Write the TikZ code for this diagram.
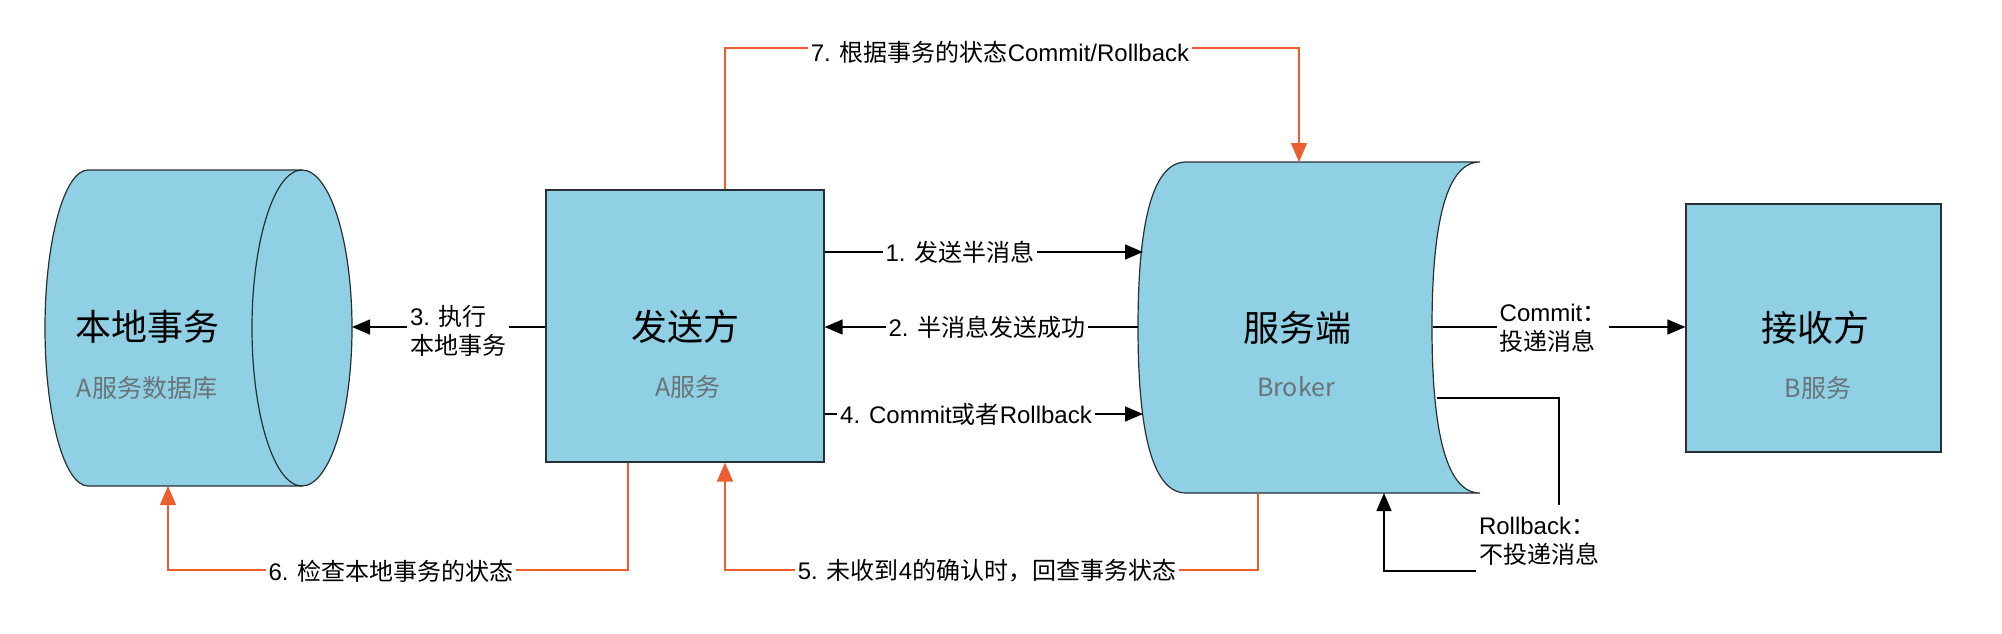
\documentclass[tikz,border=0pt]{standalone}
\usepackage{fontspec}
\setmainfont{Liberation Sans}
\newfontfamily\cjk{Noto Sans CJK SC}
\usetikzlibrary{arrows.meta}
\definecolor{boxfill}{RGB}{143,208,228}
\definecolor{boxline}{RGB}{40,48,52}
\definecolor{orng}{RGB}{236,94,48}
\definecolor{subgray}{RGB}{105,115,120}
\newcommand{\zh}[1]{{\cjk #1}}
\begin{document}
\begin{tikzpicture}[x=1pt,y=-1pt,
  shapebox/.style={draw=boxline, fill=boxfill, line width=1.2pt},
  title/.style={font=\cjk\fontsize{36}{40}\selectfont, text=black, inner sep=0pt},
  subt/.style={font=\cjk\fontsize{25}{28}\selectfont, text=subgray, inner sep=0pt},
  lbl/.style={font=\fontsize{24}{29}\selectfont, fill=white, inner sep=3pt, align=left},
  blk/.style={draw=black, line width=1.4pt, -{Triangle[length=18pt,width=15pt]}},
  org/.style={draw=orng, line width=1.5pt, -{Triangle[length=19pt,width=16pt]}}]
\useasboundingbox (0,0) rectangle (2002,633);

% local database cylinder
\path[shapebox] (88,170) .. controls (64.3,170) and (45,240.7) .. (45,328)
  .. controls (45,415.3) and (64.3,486) .. (88,486) -- (302,486)
  .. controls (329.6,486) and (352,415.3) .. (352,328)
  .. controls (352,240.7) and (329.6,170) .. (302,170) -- cycle;
\draw[draw=boxline, line width=1.2pt] (302,170) .. controls (274.4,170) and (252,240.7) .. (252,328)
  .. controls (252,415.3) and (274.4,486) .. (302,486);
\coordinate (dbE) at (352,327);
\coordinate (dbS) at (168,486);

% broker
\path[shapebox] (1186,162) -- (1480,162)
  .. controls (1448,162) and (1432,217.2) .. (1432,327.5)
  .. controls (1432,437.8) and (1448,493) .. (1480,493) -- (1186,493)
  .. controls (1154,493) and (1138,437.8) .. (1138,327.5)
  .. controls (1138,217.2) and (1154,162) .. (1186,162) -- cycle;
\coordinate (bkL1) at (1143,252);
\coordinate (bkL2) at (1138,327);
\coordinate (bkL4) at (1143,414);
\coordinate (bkR1) at (1433,327);
\coordinate (bkR2) at (1437,398);
\coordinate (bkT) at (1299,162);
\coordinate (bkB5) at (1258,493);
\coordinate (bkB0) at (1384,493);

% boxes
\node[shapebox, minimum width=278pt, minimum height=272pt, inner sep=0pt] (sender) at (685,326) {};
\node[shapebox, minimum width=255pt, minimum height=248pt, inner sep=0pt] (receiver) at (1813.5,328) {};

% helper coordinates
\coordinate (x628) at (628,0);
\coordinate (x725) at (725,0);
\coordinate (c6) at (168,570);
\coordinate (c5) at (725,570);
\coordinate (c7) at (1299,48);
\coordinate (rbC) at (1559,571);

% black connectors
\draw[blk] (sender.east |- bkL1) -- (bkL1);
\draw[blk] (bkL2) -- (sender.east |- bkL2);
\draw[blk] (sender.east |- bkL4) -- (bkL4);
\draw[blk] (sender.west |- dbE) -- (dbE);
\draw[blk] (bkR1) -- (receiver.west |- bkR1);
\draw[blk] (bkR2) -| (rbC) -| (bkB0);

% orange connectors
\draw[org] (sender.south -| x628) |- (c6) -- (dbS);
\draw[org] (bkB5) |- (c5) -- (sender.south -| x725);
\draw[org] (sender.north -| x725) |- (c7) -- (bkT);

% labels
\node[lbl] (l1) at (960,252) {1. \zh{发送半消息}};
\node[lbl] (l2) at (987,327) {2. \zh{半消息发送成功}};
\node[lbl] (l4) at (966,414) {4. Commit\zh{或者}Rollback};
\node[lbl] (l3) at (458,331) {3. \zh{执行}\\\zh{本地事务}};
\node[lbl] (lc) at (1553,328) {Commit\zh{：}\\\zh{投递消息}};
\node[lbl, inner ysep=12pt] (lr) at (1539,541) {Rollback\zh{：}\\\zh{不投递消息}};
\node[lbl] (l6) at (391,571) {6. \zh{检查本地事务的状态}};
\node[lbl] (l5) at (987,571) {5. \zh{未收到}4\zh{的确认时，回查事务状态}};
\node[lbl] (l7) at (1000,52) {7. \zh{根据事务的状态}Commit/Rollback};

% titles
\node[title] (dbT) at (147,327) {本地事务};
\node[subt] (dbS2) at (147,388) {A服务数据库};
\node[title] (sT) at (685,327) {发送方};
\node[subt] (sS) at (688,387) {A服务};
\node[title] (bT) at (1297,328) {服务端};
\node[subt] (bS) at (1296,387) {Broker};
\node[title] (rT) at (1815,328) {接收方};
\node[subt] (rS) at (1818,388) {B服务};
\end{tikzpicture}
\end{document}
